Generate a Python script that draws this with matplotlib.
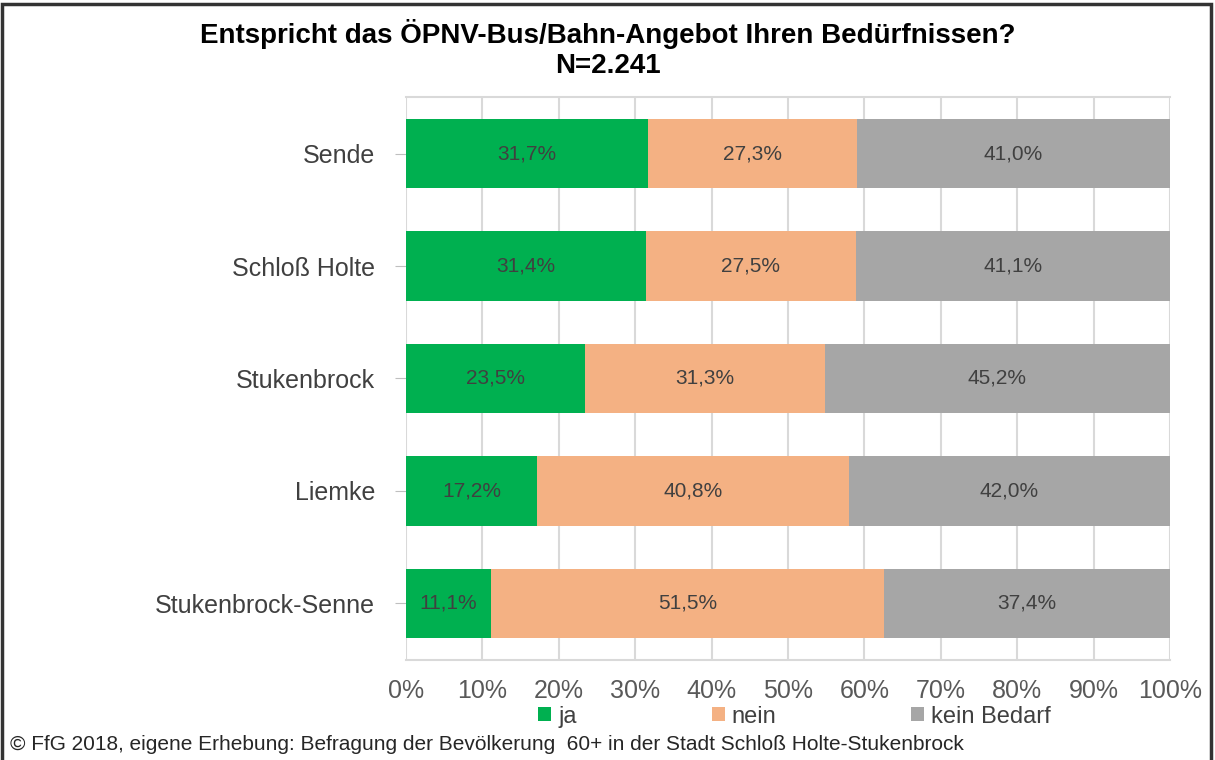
import matplotlib.pyplot as plt
import numpy as np

plt.rcParams['font.family'] = ['Liberation Sans', 'DejaVu Sans']

categories = ['Sende', 'Schloß Holte', 'Stukenbrock', 'Liemke', 'Stukenbrock-Senne']
ja = [31.7, 31.4, 23.5, 17.2, 11.1]
nein = [27.3, 27.5, 31.3, 40.8, 51.5]
kein_bedarf = [41.0, 41.1, 45.2, 42.0, 37.4]
series_names = ['ja', 'nein', 'kein Bedarf']
colors = ['#00B050', '#F4B183', '#A6A6A6']

fig = plt.figure(figsize=(12.15, 7.6), dpi=100)
ax = fig.add_axes([0.334, 0.132, 0.629, 0.74])

y = np.arange(len(categories))
left = np.zeros(len(categories))
for name, vals, c in zip(series_names, [ja, nein, kein_bedarf], colors):
    vals = np.array(vals)
    bars = ax.barh(y, vals, left=left, height=0.62, color=c, label=name, zorder=2)
    labels = [f'{v:.1f}%'.replace('.', ',') for v in vals]
    ax.bar_label(bars, labels=labels, label_type='center', fontsize=15, color='#404040')
    left += vals

ax.set_xlim(0, 100)
ax.set_ylim(len(categories) - 0.5, -0.5)
ax.set_yticks(y, categories)
ax.set_xticks(np.arange(0, 101, 10), [f'{t}%' for t in range(0, 101, 10)])
ax.tick_params(axis='y', labelsize=18, labelcolor='#404040', length=8, color='#BFBFBF', pad=14)
ax.tick_params(axis='x', labelsize=18, labelcolor='#595959', length=0, pad=14)
ax.grid(axis='x', color='#D9D9D9', lw=1.5, zorder=0)
for s in ['left', 'right']:
    ax.spines[s].set_visible(False)
for s in ['top', 'bottom']:
    ax.spines[s].set_color('#D9D9D9')
    ax.spines[s].set_linewidth(1.5)

fig.legend(loc='center', bbox_to_anchor=(0.654, 0.057), ncols=3, frameon=False,
           fontsize=17, handlelength=0.55, handleheight=0.55, handletextpad=0.3,
           columnspacing=5.7, labelcolor='#404040')

fig.text(0.5, 0.935, 'Entspricht das ÖPNV-Bus/Bahn-Angebot Ihren Bedürfnissen?\nN=2.241',
         ha='center', va='center', fontsize=20, fontweight='bold', linespacing=1.2,
         family=['Liberation Sans Narrow', 'Liberation Sans'])
fig.text(0.008, 0.02, '© FfG 2018, eigene Erhebung: Befragung der Bevölkerung  60+ in der Stadt Schloß Holte-Stukenbrock',
         ha='left', va='center', fontsize=15, color='#262626')

fig.add_artist(plt.Rectangle((0.002, -0.01), 0.995, 1.005, transform=fig.transFigure,
                             fill=False, edgecolor='#333333', lw=2.5))

fig.savefig('out.png', dpi=100)
